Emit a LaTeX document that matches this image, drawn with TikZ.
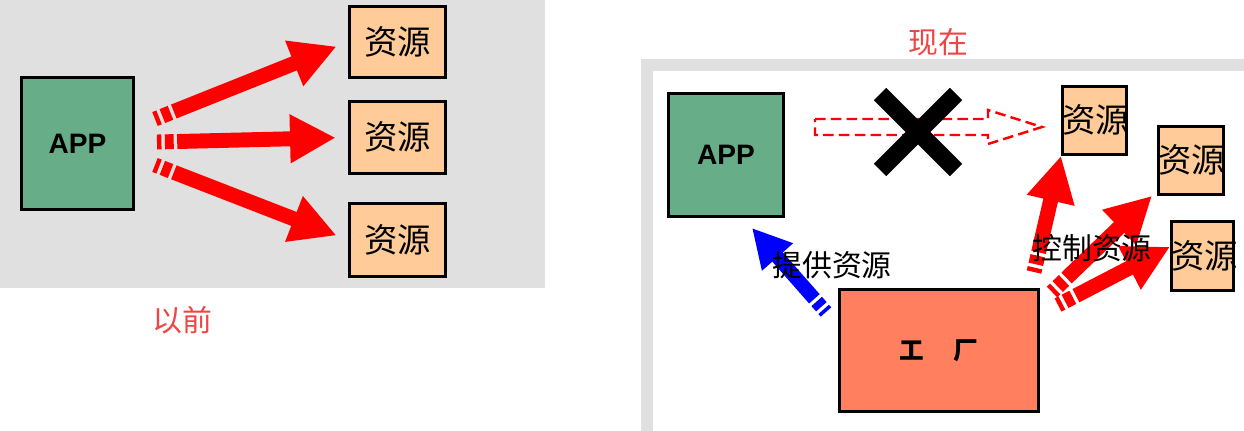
\documentclass[tikz,border=0pt]{standalone}
\usepackage{fontspec}
\newfontfamily\cjk{Noto Sans CJK SC}
\setsansfont{Liberation Sans}
\usetikzlibrary{arrows.meta}
\definecolor{bggray}{HTML}{E0E0E0}
\definecolor{appgreen}{HTML}{67AE88}
\definecolor{res}{HTML}{FFCC99}
\definecolor{fac}{HTML}{FF7F5F}
\definecolor{lbl}{HTML}{F04545}
\begin{document}
\begin{tikzpicture}[x=0.02cm,y=-0.02cm,
  box/.style={draw=black,line width=1.6pt,inner sep=0,anchor=north west},
  resbox/.style={box,fill=res,font=\cjk\fontsize{19}{19}\selectfont},
  fat/.style={red,line width=8.5pt,-{Triangle[length=26pt,width=26pt]},dash pattern=on 2.5pt off 2pt on 5pt off 2pt on 300pt},
  title/.style={text=lbl,font=\cjk\fontsize{17}{17}\selectfont}]
\useasboundingbox (0,0) rectangle (1244,430);
% left panel
\fill[bggray] (0,0) rectangle (545,288);
\node[box,fill=appgreen,minimum width=112*0.02cm,minimum height=132*0.02cm,font=\sffamily\bfseries\fontsize{16}{16}\selectfont] (app1) at (20,76) {APP};
\node[resbox,minimum width=96*0.02cm,minimum height=71*0.02cm] (r1) at (348,5) {资源};
\node[resbox,minimum width=96*0.02cm,minimum height=72*0.02cm] (r2) at (348,100) {资源};
\node[resbox,minimum width=96*0.02cm,minimum height=73*0.02cm] (r3) at (348,202) {资源};
\coordinate (s1) at (155,119); \coordinate (s2) at (157,142); \coordinate (s3) at (155,165);
\draw[fat,shorten >=7] (s1) -- (r1.west);
\draw[fat,shorten >=7] (s2) -- (r2.west);
\draw[fat,shorten >=7] (s3) -- (r3.west);
\node[title] (t1) at (182,320) {以前};
% right panel
\draw[bggray,line width=7pt] (647,440) -- (647,65) -- (1260,65);
\node[title] (t2) at (938,42) {现在};
\node[box,fill=appgreen,minimum width=115*0.02cm,minimum height=123*0.02cm,font=\sffamily\bfseries\fontsize{16}{16}\selectfont] (app2) at (667,92) {APP};
\node[resbox,minimum width=64*0.02cm,minimum height=68*0.02cm,text width=64*0.02cm,align=center] (q1) at (1061,85) {资源};
\node[resbox,minimum width=65*0.02cm,minimum height=68*0.02cm,text width=65*0.02cm,align=center] (q2) at (1157,125) {资源};
\node[resbox,minimum width=62*0.02cm,minimum height=69*0.02cm,text width=62*0.02cm,align=center] (q3) at (1170,220) {资源};
\node[box,fill=fac,minimum width=199*0.02cm,minimum height=122*0.02cm,font=\cjk\bfseries\fontsize{14}{14}\selectfont] (f) at (838,288) {工\hspace{1.2em}厂};
% dashed crossed arrow
\draw[red,line width=1.4pt,dash pattern=on 6pt off 3pt] (815,119) -- (988,119) -- (988,110) -- (1042,127) -- (988,144) -- (988,135) -- (815,135) -- cycle;
\coordinate (xc) at (918,132);
\draw[black,line width=10pt] (880,94) -- (956,170) (956,94) -- (880,170);
% blue arrow
\coordinate (b0) at (826,312);
\draw[blue,line width=8pt,-{Triangle[length=22pt,width=22pt]},dash pattern=on 2pt off 2pt on 4pt off 2pt on 300pt] (b0) -- (752,228);
\node[font=\cjk\fontsize{17}{17}\selectfont] (l1) at (832,265) {提供资源};
% red arrows right
\draw[fat] (1034,272) -- (q1.south west);
\draw[fat] (1052,292) -- ([xshift=-0.1cm]q2.south west);
\draw[fat] (1058,305) -- ([yshift=0.9cm]q3.south west);
\node[font=\cjk\fontsize{17}{17}\selectfont] (l2) at (1092,248) {控制资源};
\end{tikzpicture}
\end{document}
